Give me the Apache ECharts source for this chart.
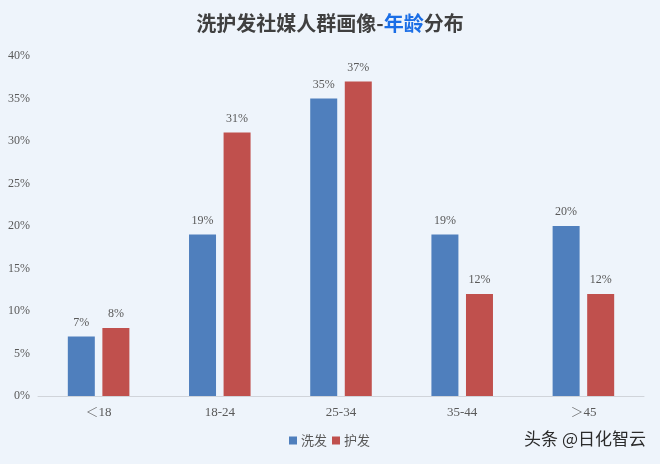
<!DOCTYPE html>
<html><head><meta charset="utf-8">
<script src="https://cdn.jsdelivr.net/npm/echarts@6/dist/echarts.min.js"></script>
<style>html,body{margin:0;padding:0;background:#eef4fb;}#c{width:660px;height:464px;}</style>
</head><body><div id="c"></div>
<script>
var categories = ['＜18', '18-24', '25-34', '35-44', '＞45'];
var washHair = [7, 19, 35, 19, 20];
var careHair = [8, 31, 37, 12, 12];
var seriesNames = ['洗发', '护发'];
var yTicks = [0, 5, 10, 15, 20, 25, 30, 35, 40];

var chart = echarts.init(document.getElementById('c'));
var labelFont = "'Liberation Serif','Noto Serif CJK SC',serif";
var lbl = {show: true, position: 'top', distance: 8, color: '#595959', fontSize: 12, fontFamily: labelFont, formatter: '{c}%'};
chart.setOption({
  backgroundColor: '#eef4fb',
  animation: false,
  title: {
    text: '洗护发社媒人群画像-{b|年龄}分布',
    left: 'center', top: 8,
    textStyle: {fontSize: 20, fontWeight: 'bold', color: '#404040', fontFamily: "'Noto Sans CJK SC'",
      rich: {b: {fontSize: 20, fontWeight: 'bold', color: '#1a6ee6', fontFamily: "'Noto Sans CJK SC'"}}}
  },
  graphic: [{
    type: 'text', right: 14, top: 430,
    style: {text: '头条 @日化智云', fontSize: 17, fill: '#2b2b2b', fontFamily: "'Noto Sans CJK SC'"}
  }],
  legend: {
    data: seriesNames, bottom: 12, left: 284, itemWidth: 8, itemHeight: 8, itemGap: 5, icon: 'rect',
    textStyle: {color: '#595959', fontSize: 13, fontFamily: "'Noto Sans CJK SC'", padding: [0, 0, 0, -1]}
  },
  grid: {left: 38, right: 16, top: 56, bottom: 68, containLabel: false},
  xAxis: {
    type: 'category', data: categories,
    axisLine: {lineStyle: {color: '#d0d4da'}},
    axisTick: {show: false},
    axisLabel: {color: '#595959', fontSize: 13, fontFamily: labelFont, margin: 10}
  },
  yAxis: {
    type: 'value', min: 0, max: 40, interval: 5,
    splitLine: {show: false},
    axisLine: {show: false}, axisTick: {show: false},
    axisLabel: {color: '#595959', fontSize: 12, fontFamily: labelFont, formatter: '{value}%', margin: 8}
  },
  series: [
    {name: seriesNames[0], type: 'bar', data: washHair, barWidth: 27, barGap: '28%', itemStyle: {color: '#4f7fbd'}, label: lbl},
    {name: seriesNames[1], type: 'bar', data: careHair, barWidth: 27, itemStyle: {color: '#c0504d'}, label: lbl}
  ]
});
</script></body></html>
